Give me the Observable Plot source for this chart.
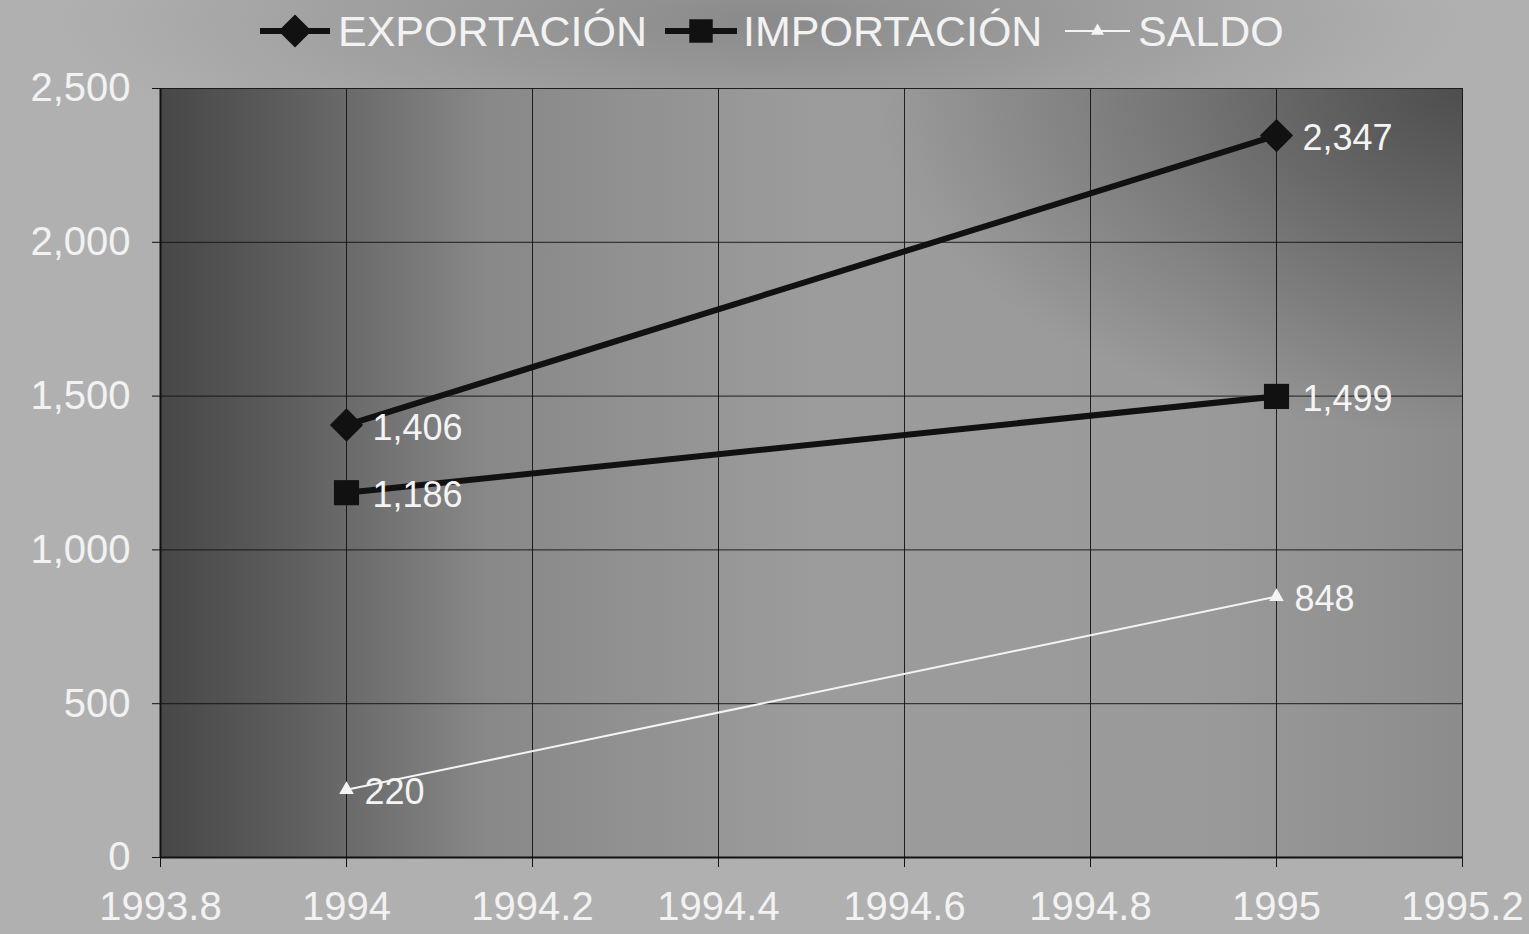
<!DOCTYPE html>
<html>
<head>
<meta charset="utf-8">
<script src="https://cdn.jsdelivr.net/npm/d3@7"></script>
<script src="https://cdn.jsdelivr.net/npm/@observablehq/plot@0.6"></script>
<style>
  html, body { margin: 0; padding: 0; width: 1529px; height: 934px; overflow: hidden; font-family: "Liberation Sans", Arial, sans-serif;
    background: radial-gradient(ellipse 700px 160px at 760px 20px, #8a8a8a, #b0b0b0); }
  #legend { height: 60px; position: relative; }
  #legend svg { position: absolute; left: 0; top: 0; }
</style>
</head>
<body>
<div id="legend"></div>
<div id="chart"></div>
<script>
const years = [1994, 1995];
const exportacion = [1406, 2347];
const importacion = [1186, 1499];
const saldo = [220, 848];
const seriesNames = ["EXPORTACIÓN", "IMPORTACIÓN", "SALDO"];
const xTicks = [1993.8, 1994, 1994.2, 1994.4, 1994.6, 1994.8, 1995, 1995.2];
const yTicks = [0, 500, 1000, 1500, 2000, 2500];

const rows = [];
[exportacion, importacion, saldo].forEach((vals, i) => {
  years.forEach((y, j) => rows.push({series: seriesNames[i], year: y, value: vals[j]}));
});
const fmt = d3.format(",");
const styles = {
  "EXPORTACIÓN": {stroke: "#111", width: 6, symbol: "diamond2", r: 15, fill: "#111"},
  "IMPORTACIÓN": {stroke: "#111", width: 6, symbol: "square2", r: 16, fill: "#111"},
  "SALDO": {stroke: "#f4f4f4", width: 2, symbol: "triangle2", r: 7, fill: "#f4f4f4"}
};

const marks = [
  Plot.frame({fill: "url(#bggrad)", stroke: null}),
  Plot.frame({fill: "url(#bgrad2)", stroke: null}),
  Plot.gridY(yTicks, {stroke: "#111", strokeOpacity: 0.9, strokeWidth: 1}),
  Plot.gridX(xTicks, {stroke: "#111", strokeOpacity: 0.9, strokeWidth: 1}),
  Plot.axisY(yTicks, {label: null, tickFormat: fmt, tickSize: 8, tickPadding: 22, fontSize: 40, color: "#f2f2f2", stroke: "#111"}),
  Plot.axisX(xTicks, {label: null, tickFormat: d => String(+d.toFixed(1)), tickSize: 10, tickPadding: 24, fontSize: 40, color: "#f2f2f2", stroke: "#111"}),
  Plot.ruleX([1993.8], {stroke: "#111", strokeWidth: 2}),
  Plot.ruleY([0], {stroke: "#111", strokeWidth: 2})
];
for (const s of seriesNames) {
  const st = styles[s];
  const data = rows.filter(d => d.series === s);
  marks.push(Plot.line(data, {x: "year", y: "value", stroke: st.stroke, strokeWidth: st.width}));
  marks.push(Plot.dot(data, {x: "year", y: "value", symbol: () => st.symbol, r: st.r, fill: st.fill, stroke: null}));
  marks.push(Plot.text(data, {x: "year", y: "value", text: d => fmt(d.value), dx: s === "SALDO" ? 18 : 26, dy: 3, textAnchor: "start", fill: "#f4f4f4", fontSize: 36}));
}

const chart = Plot.plot({
  width: 1529,
  height: 874,
  marginTop: 28,
  marginBottom: 77,
  marginLeft: 160,
  marginRight: 67,
  style: {background: "transparent", fontFamily: "'Liberation Sans', Arial, sans-serif", overflow: "visible"},
  x: {domain: [1993.8, 1995.2], axis: null},
  y: {domain: [0, 2500], axis: null},
  symbol: {type: "identity"},
  marks
});

const svgNS = "http://www.w3.org/2000/svg";
const defs = document.createElementNS(svgNS, "defs");
defs.innerHTML = `
<linearGradient id="bggrad" x1="0" y1="0" x2="1" y2="0">
  <stop offset="0" stop-color="#474747"/>
  <stop offset="0.1" stop-color="#5e5e5e"/>
  <stop offset="0.25" stop-color="#888888"/>
  <stop offset="0.5" stop-color="#9c9c9c"/>
  <stop offset="0.8" stop-color="#9a9a9a"/>
  <stop offset="1" stop-color="#8c8c8c"/>
</linearGradient>
<radialGradient id="bgrad2" cx="1" cy="0" r="0.45">
  <stop offset="0" stop-color="#333" stop-opacity="0.7"/>
  <stop offset="1" stop-color="#333" stop-opacity="0"/>
</radialGradient>`;
chart.insertBefore(defs, chart.firstChild);
document.getElementById("chart").appendChild(chart);

// legend
const leg = d3.select("#legend").append("svg").attr("width", 1529).attr("height", 60);
const items = [
  {name: seriesNames[0], x0: 260, x1: 330, tx: 338},
  {name: seriesNames[1], x0: 665, x1: 737, tx: 743},
  {name: seriesNames[2], x0: 1065, x1: 1130, tx: 1138}
];
const symMap = {diamond2: d3.symbolDiamond2, square2: d3.symbolSquare2, triangle2: d3.symbolTriangle2};
for (const it of items) {
  const st = styles[it.name];
  const g = leg.append("g");
  g.append("line").attr("x1", it.x0).attr("x2", it.x1).attr("y1", 31).attr("y2", 31)
    .attr("stroke", st.stroke).attr("stroke-width", st.width);
  const sz = st.symbol === "triangle2" ? 120 : 700;
  g.append("path").attr("d", d3.symbol(symMap[st.symbol], sz)())
    .attr("transform", `translate(${(it.x0 + it.x1) / 2},31)`)
    .attr("fill", st.fill);
  g.append("text").attr("x", it.tx).attr("y", 31).attr("dy", "0.36em")
    .attr("fill", "#f2f2f2").attr("font-size", 43)
    .attr("font-family", "'Liberation Sans', Arial, sans-serif")
    .text(it.name);
}
</script>
</body>
</html>
